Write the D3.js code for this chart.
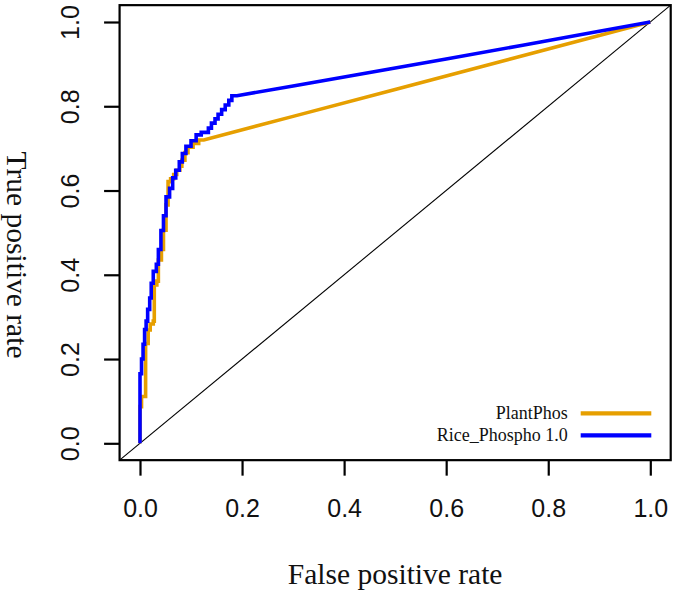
<!DOCTYPE html>
<html>
<head>
<meta charset="utf-8">
<script src="https://cdn.jsdelivr.net/npm/d3@7/dist/d3.min.js"></script>
<style>
  html, body { margin: 0; padding: 0; background: #fff; }
  svg { display: block; }
</style>
</head>
<body>
<svg id="chart" width="675" height="594"></svg>
<script>
// ---- data ----
const tickValues = [0, 0.2, 0.4, 0.6, 0.8, 1.0];
const seriesNames = ["PlantPhos", "Rice_Phospho 1.0"];
const seriesColors = ["#E69F00", "#0000FF"];

const plantPhosFpr = [0,0,.003,.003,.011,.011,.016,.016,.02,.02,.026,.026,.028,.028,.033,.033,.036,.036,.042,.042,.046,.046,.051,.051,.055,.055,.06,.06,.066,.066,.072,.072,.078,.078,.082,.082,.088,.088,.094,.094,.104,.104,.115,.115,.125,.3,.5,.7,.9,1];
const plantPhosTpr = [0,.087,.087,.111,.111,.237,.237,.269,.269,.283,.283,.29,.29,.376,.376,.385,.385,.435,.435,.46,.46,.506,.506,.566,.566,.621,.621,.628,.628,.638,.638,.648,.648,.658,.658,.672,.672,.69,.69,.703,.703,.712,.712,.72,.72,.776,.84,.904,.968,1];

const riceFpr = [0,0,.003,.003,.006,.006,.009,.009,.012,.012,.015,.015,.019,.019,.022,.022,.026,.026,.032,.032,.036,.036,.041,.041,.046,.046,.051,.051,.058,.058,.064,.064,.07,.07,.077,.077,.083,.083,.09,.09,.1,.1,.11,.11,.12,.12,.134,.134,.14,.14,.147,.147,.153,.153,.16,.16,.167,.167,.174,.174,.18,.18,.19,.3,.45,.6,.75,.9,1];
const riceTpr = [0,.165,.165,.2,.2,.235,.235,.27,.27,.29,.29,.318,.318,.345,.345,.38,.38,.408,.408,.425,.425,.46,.46,.505,.505,.54,.54,.585,.585,.605,.605,.63,.63,.648,.648,.668,.668,.688,.688,.705,.705,.718,.718,.732,.732,.738,.738,.748,.748,.76,.76,.77,.77,.781,.781,.792,.792,.803,.803,.814,.814,.825,.825,.848,.88,.912,.945,.978,1];

// ---- layout ----
const svg = d3.select("#chart");
const x = d3.scaleLinear().domain([0, 1]).range([140, 650.3]);
const y = d3.scaleLinear().domain([0, 1]).range([443.3, 22]);
const x0 = x(-0.04), x1 = x(1.04), y0 = y(-0.04), y1 = y(1.04);

svg.append("defs").append("clipPath").attr("id", "clip")
  .append("rect").attr("x", x0).attr("y", y1).attr("width", x1 - x0).attr("height", y0 - y1);

const plot = svg.append("g").attr("clip-path", "url(#clip)");

// diagonal reference line
plot.append("line")
  .attr("x1", x(-0.04)).attr("y1", y(-0.04))
  .attr("x2", x(1.04)).attr("y2", y(1.04))
  .attr("stroke", "#000").attr("stroke-width", 1.1);

const line = d3.line().x(d => x(d[0])).y(d => y(d[1]));
const seriesData = [
  d3.zip(plantPhosFpr, plantPhosTpr),
  d3.zip(riceFpr, riceTpr)
];
// draw PlantPhos first, then Rice_Phospho over it
seriesData.forEach((pts, i) => {
  plot.append("path")
    .attr("d", line(pts))
    .attr("fill", "none")
    .attr("stroke", seriesColors[i])
    .attr("stroke-width", 3.6)
    .attr("stroke-linejoin", "miter");
});

// box
svg.append("rect")
  .attr("x", x0).attr("y", y1).attr("width", x1 - x0).attr("height", y0 - y1)
  .attr("fill", "none").attr("stroke", "#000").attr("stroke-width", 2.2);

// axes
const fmt = d3.format(".1f");
const xAxis = svg.append("g").attr("transform", `translate(0,${y0})`)
  .call(d3.axisBottom(x).tickValues(tickValues).tickSize(15.5).tickFormat(fmt));
xAxis.select(".domain").remove();
xAxis.selectAll(".tick line").attr("stroke", "#000").attr("stroke-width", 2.2);
xAxis.selectAll(".tick text")
  .attr("y", 57.3).attr("dy", 0)
  .attr("fill", "#111")
  .style("font-family", "'Liberation Sans', Arial, sans-serif")
  .style("font-size", "25px");

const yAxis = svg.append("g").attr("transform", `translate(${x0},0)`)
  .call(d3.axisLeft(y).tickValues(tickValues).tickSize(15.5).tickFormat(fmt));
yAxis.select(".domain").remove();
yAxis.selectAll(".tick line").attr("stroke", "#000").attr("stroke-width", 2.2);
yAxis.selectAll(".tick text")
  .attr("x", null).attr("dy", 0)
  .attr("text-anchor", "middle")
  .attr("transform", "translate(-41,0) rotate(-90)")
  .attr("fill", "#111")
  .style("font-family", "'Liberation Sans', Arial, sans-serif")
  .style("font-size", "25px");

// axis titles
svg.append("text")
  .attr("x", (x(0) + x(1)) / 2).attr("y", 583.5)
  .attr("text-anchor", "middle")
  .style("font-family", "'Liberation Serif', 'Times New Roman', serif")
  .style("font-size", "29.5px")
  .attr("fill", "#111")
  .text("False positive rate");

svg.append("text")
  .attr("transform", "translate(7,255) rotate(90)")
  .attr("text-anchor", "middle")
  .style("font-family", "'Liberation Serif', 'Times New Roman', serif")
  .style("font-size", "29.5px")
  .attr("fill", "#111")
  .text("True positive rate");

// legend
const legend = svg.append("g");
seriesNames.forEach((name, i) => {
  const ly = 413.3 + i * 22;
  legend.append("line")
    .attr("x1", 580.7).attr("x2", 651.3)
    .attr("y1", ly).attr("y2", ly)
    .attr("stroke", seriesColors[i]).attr("stroke-width", 4.2);
  legend.append("text")
    .attr("x", 567.7).attr("y", ly + 6)
    .attr("text-anchor", "end")
    .style("font-family", "'Liberation Serif', 'Times New Roman', serif")
    .style("font-size", "18px")
    .attr("fill", "#111")
    .text(name);
});
</script>
</body>
</html>
